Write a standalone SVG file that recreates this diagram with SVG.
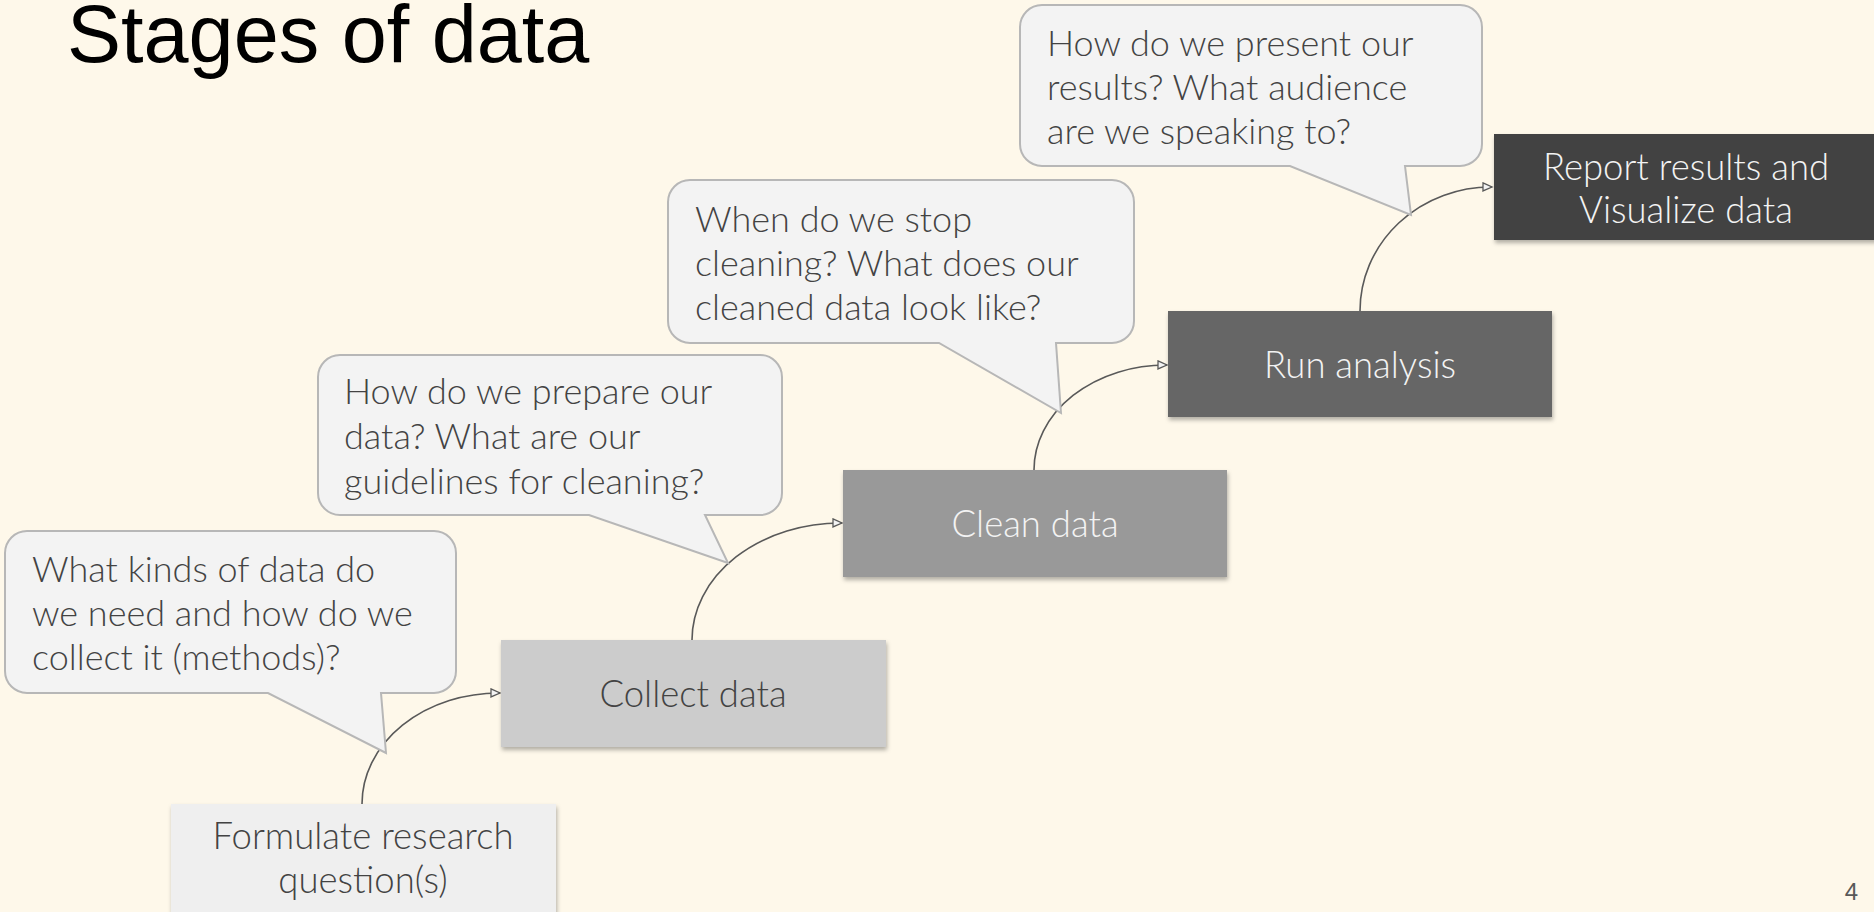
<svg xmlns="http://www.w3.org/2000/svg" width="1874" height="912" viewBox="0 0 1874 912">
<style>
.bubble{fill:#f3f3f3;stroke:#b7b7b7;stroke-width:2}
.btxt{font-family:Lato,"Noto Sans",sans-serif;font-weight:300;font-size:36px;fill:#434343}
.ntxt{font-family:Lato,"Noto Sans",sans-serif;font-weight:300;font-size:36.5px;text-anchor:middle}
.conn{fill:none;stroke:#595959;stroke-width:1.6;marker-end:url(#arr)}
.title{font-family:"Liberation Sans",Arial,sans-serif;font-size:81px;fill:#000}
</style>
<defs>
<filter id="sh" x="-5%" y="-10%" width="115%" height="130%">
<feDropShadow dx="1" dy="3" stdDeviation="2" flood-color="#000" flood-opacity="0.3"/>
</filter>
<marker id="arr" markerUnits="userSpaceOnUse" markerWidth="14" markerHeight="12" refX="10" refY="5" orient="auto">
<path d="M1 1 L10 5 L1 9 Z" fill="#f3f3f3" stroke="#595959" stroke-width="1.3"/>
</marker>
</defs>
<rect width="1874" height="912" fill="#fef8ea"/>
<text class="title" x="67" y="62">Stages of data</text>
<text x="1858" y="900" font-family="Liberation Sans,Arial,sans-serif" font-size="24" fill="#595959" text-anchor="end">4</text>

<g id="connectors">
<path class="conn" d="M362 804 A137 111 0 0 1 500 693"/>
<path class="conn" d="M692 640 A149 117 0 0 1 842 523"/>
<path class="conn" d="M1034 470 A132 105 0 0 1 1167 365"/>
<path class="conn" d="M1360 311 A131 124 0 0 1 1492 187"/>
</g>

<g id="bubble1">
<path class="bubble" d="M27 531 H434 A22 22 0 0 1 456 553 V671 A22 22 0 0 1 434 693 H381 L386 753 L268 693 H27 A22 22 0 0 1 5 671 V553 A22 22 0 0 1 27 531 Z"/>
<text class="btxt" x="32" y="582">What kinds of data do</text>
<text class="btxt" x="32" y="626">we need and how do we</text>
<text class="btxt" x="32" y="670">collect it (methods)?</text>
</g>
<g id="bubble2">
<path class="bubble" d="M340 355 H760 A22 22 0 0 1 782 377 V493 A22 22 0 0 1 760 515 H705 L728 563 L589 515 H340 A22 22 0 0 1 318 493 V377 A22 22 0 0 1 340 355 Z"/>
<text class="btxt" x="344" y="404">How do we prepare our</text>
<text class="btxt" x="344" y="449">data? What are our</text>
<text class="btxt" x="344" y="494">guidelines for cleaning?</text>
</g>
<g id="bubble3">
<path class="bubble" d="M690 180 H1112 A22 22 0 0 1 1134 202 V321 A22 22 0 0 1 1112 343 H1056 L1061 413 L939 343 H690 A22 22 0 0 1 668 321 V202 A22 22 0 0 1 690 180 Z"/>
<text class="btxt" x="695" y="232">When do we stop</text>
<text class="btxt" x="695" y="276">cleaning? What does our</text>
<text class="btxt" x="695" y="320">cleaned data look like?</text>
</g>
<g id="bubble4">
<path class="bubble" d="M1042 5 H1460 A22 22 0 0 1 1482 27 V144 A22 22 0 0 1 1460 166 H1405 L1411 215 L1290 166 H1042 A22 22 0 0 1 1020 144 V27 A22 22 0 0 1 1042 5 Z"/>
<text class="btxt" x="1047" y="56">How do we present our</text>
<text class="btxt" x="1047" y="100">results? What audience</text>
<text class="btxt" x="1047" y="144">are we speaking to?</text>
</g>

<g id="formulate">
<rect x="171" y="804" width="385" height="120" fill="#efefef" filter="url(#sh)"/>
<text class="ntxt" x="363" y="849" fill="#434343">Formulate research</text>
<text class="ntxt" x="363" y="893" fill="#434343">question(s)</text>
</g>
<g id="collect">
<rect x="501" y="640" width="385" height="107" fill="#cccccc" filter="url(#sh)"/>
<text class="ntxt" x="693" y="707" fill="#434343">Collect data</text>
</g>
<g id="clean">
<rect x="843" y="470" width="384" height="107" fill="#999999" filter="url(#sh)"/>
<text class="ntxt" x="1035" y="537" fill="#f3f3f3">Clean data</text>
</g>
<g id="run">
<rect x="1168" y="311" width="384" height="106" fill="#666666" filter="url(#sh)"/>
<text class="ntxt" x="1360" y="378" fill="#f3f3f3">Run analysis</text>
</g>
<g id="report">
<rect x="1494" y="134" width="390" height="106" fill="#434343" filter="url(#sh)"/>
<text class="ntxt" x="1686" y="180" fill="#f3f3f3">Report results and</text>
<text class="ntxt" x="1686" y="223" fill="#f3f3f3">Visualize data</text>
</g>
</svg>
